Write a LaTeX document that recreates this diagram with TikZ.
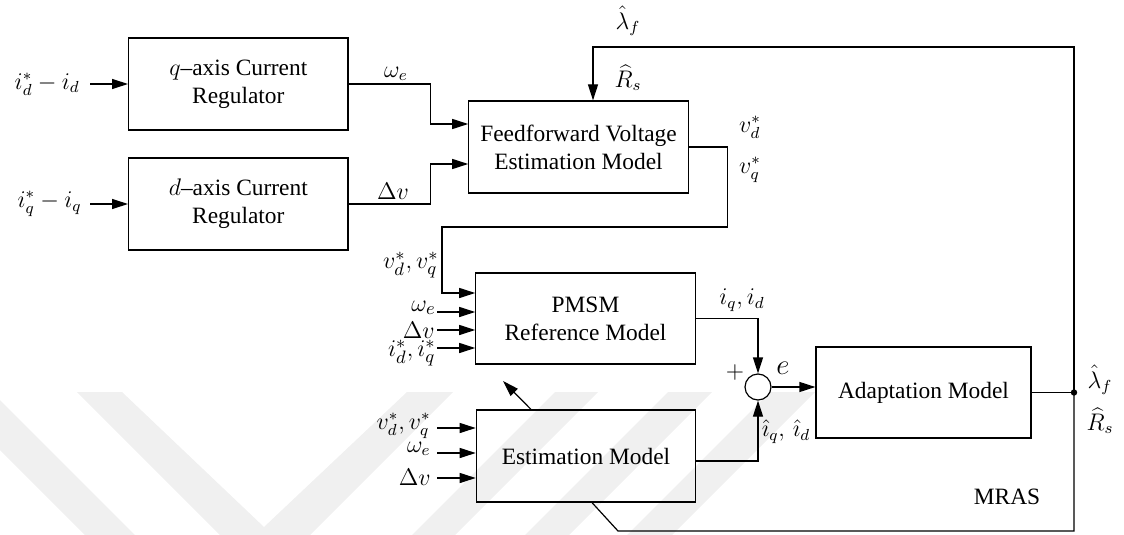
\documentclass[tikz,border=0pt]{standalone}
\usepackage{fontspec}
\setmainfont{Liberation Serif}
\usetikzlibrary{arrows.meta,calc}
\begin{document}
\begin{tikzpicture}[x=0.5pt,y=-0.5pt,
  font=\fontsize{11.7}{14}\selectfont,
  blk/.style={draw, line width=0.6pt, minimum width=109.7pt, minimum height=46pt, align=center, inner sep=0pt},
  wire/.style={line width=0.6pt},
  arr/.style={wire, -{Triangle[length=8pt,width=5pt]}},
  lbl/.style={inner sep=0pt},
  big/.style={lbl, font=\fontsize{13}{15}\selectfont},
  wm/.style={fill=black!6, draw=none}]
\useasboundingbox (0,0) rectangle (1124,535);
% watermark
\fill[wm] (0,400) -- (0,450) -- (85,535) -- (135,535) -- cycle;
\fill[wm] (77,392) -- (122,392) -- (264,527) -- (407,392) -- (453,392) -- (310,535) -- (220,535) -- cycle;
\fill[wm] (555,392) -- (598,392) -- (455,535) -- (412,535) -- cycle;
\fill[wm] (668,392) -- (712,392) -- (569,535) -- (525,535) -- cycle;
\fill[wm] (770,392) -- (815,392) -- (672,535) -- (627,535) -- cycle;
% blocks
\node[blk] (q) at (238.3,84) {$q$–axis Current\\Regulator};
\node[blk] (d) at (238.3,204) {$d$–axis Current\\Regulator};
\node[blk] (ff) at (578.5,147) {Feedforward Voltage\\Estimation Model};
\node[blk, minimum height=45.5pt] (pm) at (585.5,318.5) {PMSM\\Reference Model};
\node[blk] (est) at (586,456) {Estimation Model};
\node[blk, minimum width=107.5pt, minimum height=45.5pt] (ad) at (923.5,392.5) {Adaptation Model};
\node[circle, draw, line width=0.6pt, minimum size=13pt, inner sep=0pt] (s) at (758,387) {};
% left inputs
\coordinate (qin) at (90,84);
\coordinate (din) at (90,204);
\draw[arr] (qin) -- (q.west);
\draw[arr] (din) -- (d.west);
\node[lbl, anchor=east] (lq) at (80,84) {$i_d^*-i_d$};
\node[lbl, anchor=east] (ld) at (82,204) {$i_q^*-i_q$};
% regulators to feedforward
\draw[arr] (q.east) -- ++(82,0) |- ($(ff.west)+(0,-23)$);
\draw[arr] (d.east) -- ++(82,0) |- ($(ff.west)+(0,17)$);
\node[lbl] (lw1) at (396,74) {$\omega_e$};
\node[lbl] (ldv1) at (393,191) {$\Delta v$};
% feedforward to PMSM
\draw[arr] (ff.east) -- ++(39,0) |- (442,227) |- ($(pm.west)+(0,-25.5)$);
\node[lbl] (lvd) at (750,127) {$v_d^*$};
\node[lbl] (lvq) at (750,170) {$v_q^*$};
\node[big, anchor=east] (lvdq1) at (439,265) {$v_d^*, v_q^*$};
% PMSM inputs
\coordinate (p1) at (437,312);
\coordinate (p2) at (437,330);
\coordinate (p3) at (437,348);
\draw[arr] (p1) -- (p1 -| pm.west);
\draw[arr] (p2) -- (p2 -| pm.west);
\draw[arr] (p3) -- (p3 -| pm.west);
\node[big, anchor=east] (lw2) at (436,308) {$\omega_e$};
\node[big, anchor=east] (ldv2) at (435,330) {$\Delta v$};
\node[big, anchor=east] (lid) at (436,353) {$i_d^*, i_q^*$};
% estimation inputs
\coordinate (e1) at (437,428);
\coordinate (e2) at (437,453);
\coordinate (e3) at (437,478);
\draw[arr] (e1) -- (e1 -| est.west);
\draw[arr] (e2) -- (e2 -| est.west);
\draw[arr] (e3) -- (e3 -| est.west);
\node[lbl, anchor=east] (lvdq2) at (431,426) {$v_d^*,v_q^*$};
\node[lbl, anchor=east] (lw3) at (431,449) {$\omega_e$};
\node[lbl, anchor=east] (ldv3) at (431,477) {$\Delta v$};
% diagonal arrow
\coordinate (diagtip) at (503,381);
\draw[arr] ($(est.north)+(-55,0)$) -- (diagtip);
% summing junction
\draw[arr] (pm.east) -| (s.north);
\draw[arr] ($(est.east)+(0,5)$) -| (s.south);
\draw[arr] (s.east) -- (s.east -| ad.west);
\node[lbl] (liq) at (742,300) {$i_q, i_d$};
\node[lbl] (lplus) at (735,372) {$+$};
\node[lbl, font=\fontsize{14}{16}\selectfont] (le) at (783,368) {$e$};
\node[lbl] (lhat) at (786,432) {$\hat{\imath}_q,\, \hat{\imath}_d$};
% adaptation output and feedback
\coordinate (dot) at (1074,392.5);
\draw[wire] (ad.east) -- (dot);
\fill (dot) circle (1.6pt);
\coordinate (topc) at (593,47);
\draw[arr] (dot) |- (topc) -- (topc |- ff.north);
\coordinate (botc) at (618,531);
\draw[wire] (dot) |- (botc) -- ($(est.south)+(6,0)$);
\node[lbl] (llam1) at (628,21) {$\hat{\lambda}_f$};
\node[lbl] (lrs1) at (628,78) {$\widehat{R}_s$};
\node[lbl] (llam2) at (1100,380) {$\hat{\lambda}_f$};
\node[lbl] (lrs2) at (1100,421) {$\widehat{R}_s$};
\node[lbl] (mras) at (1007,497) {MRAS};
\end{tikzpicture}
\end{document}
